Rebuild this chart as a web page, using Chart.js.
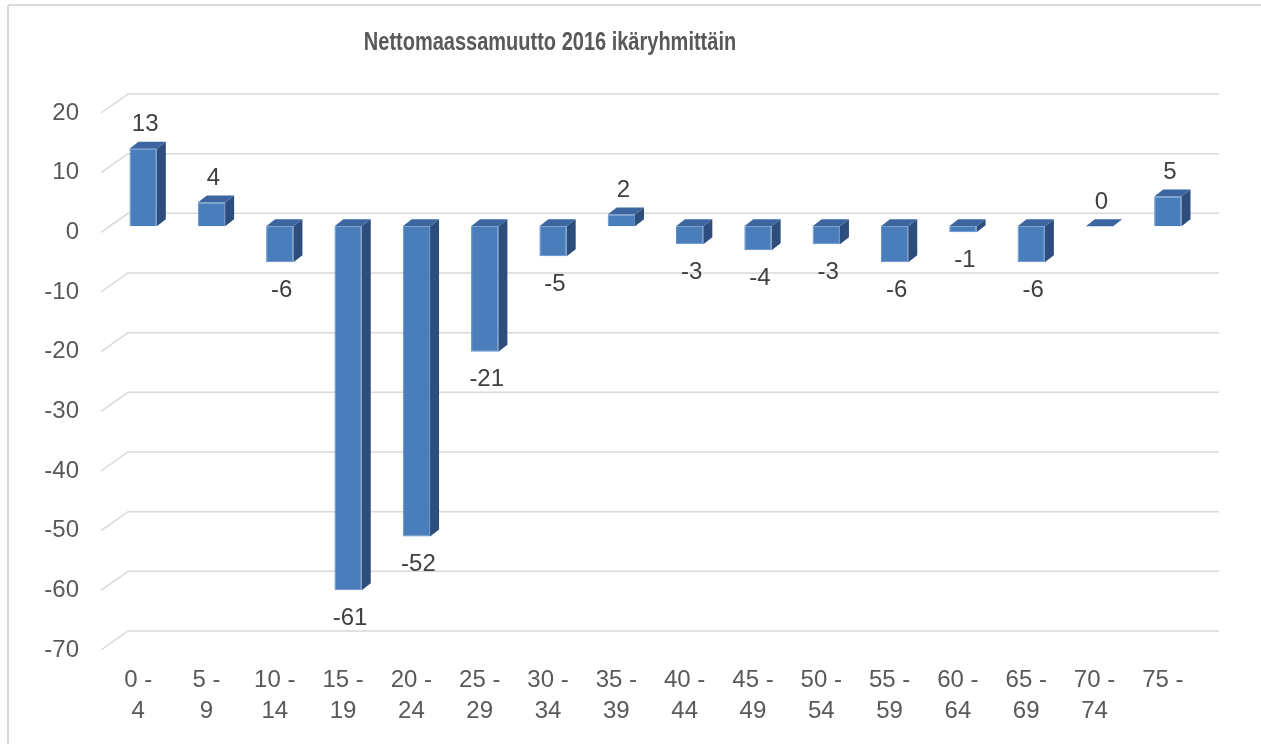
<!DOCTYPE html>
<html>
<head>
<meta charset="utf-8">
<script src="https://cdn.jsdelivr.net/npm/chart.js@4.4.0/dist/chart.umd.min.js"></script>
<style>
    html, body { margin: 0; padding: 0; background: #fff; overflow: hidden; }
    #wrap { position: relative; width: 1261px; height: 744px; }
    #frame { position: absolute; left: 7px; top: 4px; right: -10px; bottom: -10px; border: 2px solid #d9d9d9; border-radius: 3px; }
    canvas { position: absolute; left: 0; top: 0; }
</style>
</head>
<body>
<div id="wrap">
    <div id="frame"></div>
    <canvas id="chart" width="1261" height="744"></canvas>
</div>
<script>
const chartTitle = 'Nettomaassamuutto 2016 ikäryhmittäin';
const ageGroups = [
    ['0 -', '4'], ['5 -', '9'], ['10 -', '14'], ['15 -', '19'],
    ['20 -', '24'], ['25 -', '29'], ['30 -', '34'], ['35 -', '39'],
    ['40 -', '44'], ['45 -', '49'], ['50 -', '54'], ['55 -', '59'],
    ['60 -', '64'], ['65 -', '69'], ['70 -', '74'], ['75 -']
];
const netMigration = [13, 4, -6, -61, -52, -21, -5, 2, -3, -4, -3, -6, -1, -6, 0, 5];
const yTicks = [20, 10, 0, -10, -20, -30, -40, -50, -60, -70];

const FONT = '"Liberation Sans", Arial, sans-serif';
const TEXT = '#595959';

// back wall gridlines + left wall diagonals
const wallPlugin = {
    id: 'wall',
    beforeDatasetsDraw(chart) {
        const { ctx, chartArea, scales: { y } } = chart;
        ctx.save();
        ctx.strokeStyle = '#d9d9d9';
        ctx.lineWidth = 1.5;
        yTicks.forEach(v => {
            const yf = y.getPixelForValue(v);
            const yb = yf - 13;
            ctx.beginPath();
            ctx.moveTo(chartArea.left - 8, yf + 6);
            ctx.lineTo(chartArea.left + 19, yb);
            ctx.lineTo(chartArea.right + 17, yb);
            ctx.stroke();
        });
        ctx.restore();
    }
};

// side and top faces for the bars, plus value labels
const bar3dPlugin = {
    id: 'bar3d',
    afterDatasetsDraw(chart) {
        const { ctx } = chart;
        const dx = 9, dy = 7;
        const meta = chart.getDatasetMeta(0);
        ctx.save();
        meta.data.forEach((bar, i) => {
            const { x, y, base, width } = bar.getProps(['x', 'y', 'base', 'width'], true);
            const left = x - width / 2, right = x + width / 2;
            const top = Math.min(y, base), bottom = Math.max(y, base);

            ctx.fillStyle = '#2d4d7c';
            ctx.beginPath();
            ctx.moveTo(right, top);
            ctx.lineTo(right + dx, top - dy);
            ctx.lineTo(right + dx, bottom - dy);
            ctx.lineTo(right, bottom);
            ctx.closePath();
            ctx.fill();

            ctx.fillStyle = '#3b66a0';
            ctx.beginPath();
            ctx.moveTo(left, top);
            ctx.lineTo(left + dx, top - dy);
            ctx.lineTo(right + dx, top - dy);
            ctx.lineTo(right, top);
            ctx.closePath();
            ctx.fill();

            const v = netMigration[i];
            ctx.fillStyle = '#404040';
            ctx.font = '24px ' + FONT;
            ctx.textAlign = 'center';
            ctx.textBaseline = 'middle';
            ctx.fillText(String(v), x + 2, v >= 0 ? top - 24 : bottom + 28);
        });
        ctx.restore();
    },
    afterDraw(chart) {
        // title: condensed bold, squeezed horizontally like Arial Narrow
        const { ctx } = chart;
        ctx.save();
        ctx.fillStyle = TEXT;
        ctx.font = 'bold 25px ' + FONT;
        ctx.textAlign = 'center';
        ctx.textBaseline = 'alphabetic';
        ctx.translate(550, 50);
        ctx.scale(0.8, 1);
        ctx.fillText(chartTitle, 0, 0);
        ctx.restore();
    }
};

new Chart(document.getElementById('chart'), {
    type: 'bar',
    data: {
        labels: ageGroups,
        datasets: [{
            data: netMigration,
            backgroundColor: '#4a7ebb',
            borderColor: '#5b8fcf',
            borderWidth: 1,
            barPercentage: 0.4,
            categoryPercentage: 1
        }]
    },
    options: {
        responsive: false,
        animation: false,
        layout: { padding: { left: 10, right: 59, top: 107, bottom: 0 } },
        plugins: {
            legend: { display: false },
            title: { display: false },
            tooltip: { enabled: false }
        },
        scales: {
            x: {
                grid: { display: false, drawTicks: false },
                border: { display: false },
                ticks: {
                    color: TEXT,
                    font: { family: FONT, size: 24, lineHeight: 1.3 },
                    padding: 21,
                    labelOffset: -5,
                    maxRotation: 0,
                    autoSkip: false
                },
                afterFit(scale) { scale.height = 100; }
            },
            y: {
                min: -70,
                max: 20,
                grid: { display: false, drawTicks: false },
                border: { display: false },
                ticks: {
                    stepSize: 10,
                    color: TEXT,
                    font: { family: FONT, size: 24 },
                    padding: 30,
                    labelOffset: 6
                },
                afterFit(scale) { scale.width = 99; }
            }
        }
    },
    plugins: [wallPlugin, bar3dPlugin]
});
</script>
</body>
</html>
